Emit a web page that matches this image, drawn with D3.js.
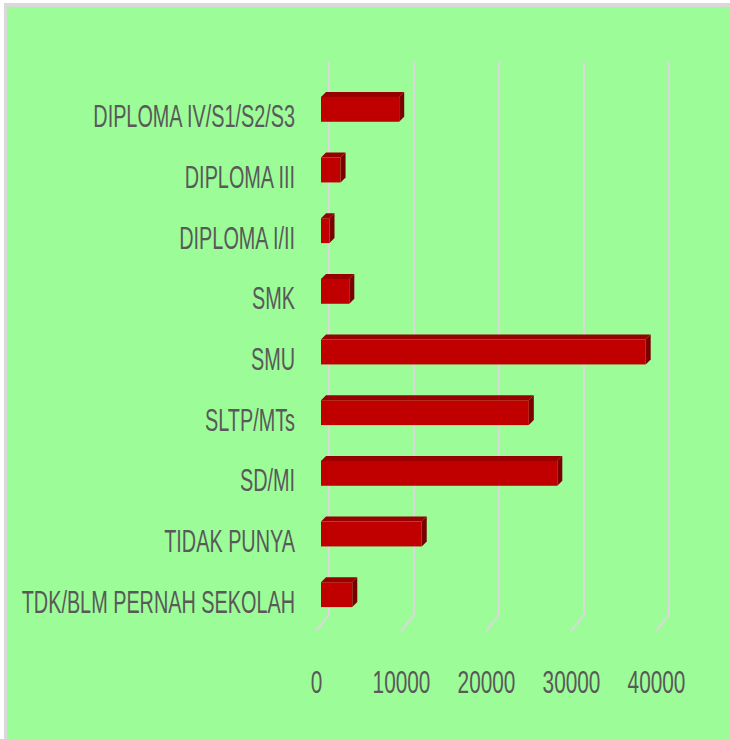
<!DOCTYPE html>
<html>
<head>
<meta charset="utf-8">
<script src="https://cdn.jsdelivr.net/npm/d3@7"></script>
<style>
body { margin: 0; background: #fff; }
svg { display: block; }
text { font-family: "Liberation Sans", Arial, sans-serif; fill: #595959; }
</style>
</head>
<body>
<svg id="chart"></svg>
<script>
// data
var categories = ["DIPLOMA IV/S1/S2/S3", "DIPLOMA III", "DIPLOMA I/II", "SMK", "SMU",
  "SLTP/MTs", "SD/MI", "TIDAK PUNYA", "TDK/BLM PERNAH SEKOLAH"]
var values = [9200, 2300, 1000, 3330, 38200, 24450, 27800, 11850, 3680]
var ticks = [0, 10000, 20000, 30000, 40000]

var width = 730
var height = 739

// 3d look: back wall is shifted right/up from the front edge
var depth = {"x": 13, "y": -16}
var barShift = 5   // bar front sits a bit inside the floor
var barDepth = 5
var wallTop = 62
var floorFront = 631

var svg = d3.select("#chart")
  .attr("width", width)
  .attr("height", height)

// frame
svg.append("rect").attr("x", 4).attr("y", 3).attr("width", width).attr("height", height)
  .attr("fill", "#d9d9d9")
svg.append("rect").attr("x", 7).attr("y", 7).attr("width", width).attr("height", height)
  .attr("fill", "#9cfd98")

var x = d3.scaleLinear().domain([0, 40000]).range([316, 656])

var y = d3.scaleBand()
  .domain(categories)
  .range([79, 625])
  .paddingInner(0.59)
  .paddingOuter(0.295)

// gridlines on back wall + floor
var grid = svg.append("g")
grid.selectAll("path")
  .data(ticks)
  .enter().append("path")
  .attr("d", function(t) {
    var bx = x(t) + depth.x
    return "M" + bx + "," + wallTop + "V" + (floorFront + depth.y) + "L" + x(t) + "," + floorFront
  })
  .attr("fill", "none")
  .attr("stroke", "#d9d9d9")
  .attr("stroke-width", 2)

// bars
var bars = svg.append("g").selectAll("g")
  .data(categories)
  .enter().append("g")

var x0 = x(0) + barShift
var bh = y.bandwidth()

// top face
bars.append("path")
  .attr("d", function(d, i) {
    var x1 = x(values[i]) + barShift
    var y0 = y(d)
    return "M" + x0 + "," + y0 + "L" + (x0 + barDepth) + "," + (y0 - barDepth) +
      "L" + (x1 + barDepth) + "," + (y0 - barDepth) + "L" + x1 + "," + y0 + "Z"
  })
  .attr("fill", "#960000")

// side face
bars.append("path")
  .attr("d", function(d, i) {
    var x1 = x(values[i]) + barShift
    var y0 = y(d)
    return "M" + x1 + "," + y0 + "L" + (x1 + barDepth) + "," + (y0 - barDepth) +
      "L" + (x1 + barDepth) + "," + (y0 + bh - barDepth) + "L" + x1 + "," + (y0 + bh) + "Z"
  })
  .attr("fill", "#7a0000")

// front face
bars.append("rect")
  .attr("x", x0)
  .attr("y", function(d) { return y(d) })
  .attr("width", function(d, i) { return x(values[i]) - x(0) })
  .attr("height", bh)
  .attr("fill", "#c00000")

// category labels
var yAxis = svg.append("g")
  .attr("transform", "translate(295,0)")
  .call(d3.axisLeft(y).tickSize(0))
yAxis.select(".domain").remove()
yAxis.selectAll("text")
  .attr("x", 0)
  .attr("dy", 0)
  .attr("y", 0)
  .attr("transform", "translate(0,18) scale(0.62,1)")
  .attr("text-anchor", "end")
  .style("font-size", "32px")
  .style("font-family", "'Liberation Sans', Arial, sans-serif")
  .attr("fill", "#595959")

// value labels
var xAxis = svg.append("g")
  .attr("transform", "translate(0,693)")
  .call(d3.axisBottom(x).tickValues(ticks).tickSize(0).tickFormat(d3.format("d")))
xAxis.select(".domain").remove()
xAxis.selectAll("text")
  .attr("y", 0)
  .attr("dy", 0)
  .attr("transform", "scale(0.65,1)")
  .style("font-size", "32px")
  .style("font-family", "'Liberation Sans', Arial, sans-serif")
  .attr("fill", "#595959")
</script>
</body>
</html>
